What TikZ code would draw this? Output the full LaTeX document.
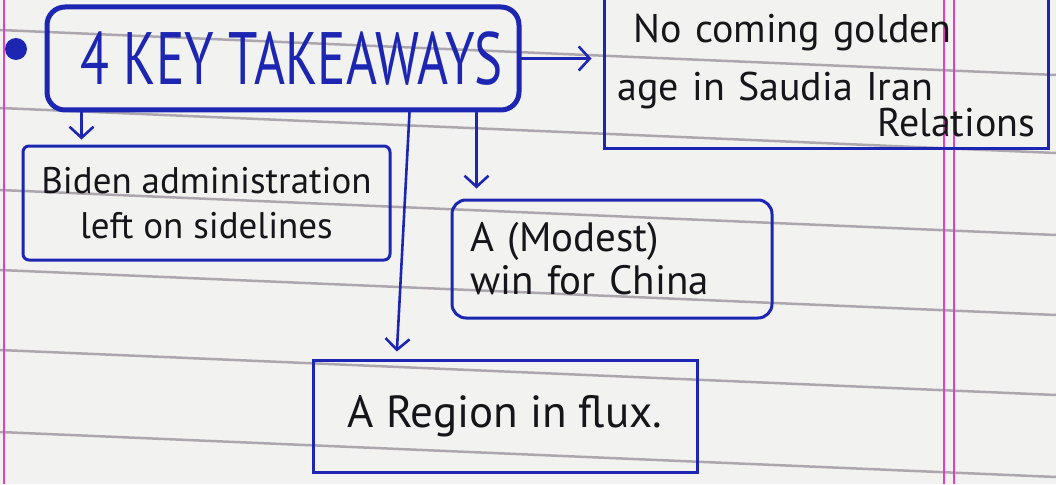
\documentclass[tikz,border=0pt]{standalone}
\usepackage{fontspec}
\setmainfont{PT Sans}
\usepackage{graphicx}
\usetikzlibrary{arrows.meta}

\definecolor{inkblue}{RGB}{28,38,178}
\definecolor{inkblack}{RGB}{22,22,26}
\definecolor{paper}{RGB}{242,242,240}
\definecolor{ruling}{RGB}{172,167,174}
\definecolor{margin}{RGB}{226,64,190}
\newcommand{\tallink}[1]{\scalebox{1}[1.4]{#1}}

\tikzset{every picture/.style={line width=0.75pt}}
\tikzset{
  notebox/.style={draw=inkblue, line width=3pt, inner sep=0pt, text=inkblack},
  inkarrow/.style={draw=inkblue, line width=2.6pt, line cap=round, -{Straight Barb[length=11pt,width=24pt]}}
}

\begin{document}
\begin{tikzpicture}[x=1pt,y=1pt,yscale=-1,xscale=1]
% Paper
\fill[paper] (0,0) rectangle (1056,484);
\useasboundingbox (0,0) rectangle (1056,484);
\foreach \y in {30,108,190,270,350,432}
  \draw[ruling, line width=2.5pt] (0,\y) -- (1056,{\y+45});
\draw[margin, line width=1.3pt] (4,0) -- (4,484);
\draw[margin, line width=1.3pt] (944,0) -- (944,484);
\draw[margin, line width=1.3pt] (954,0) -- (954,484);

% Bullet
\node[circle, fill=inkblue, inner sep=0pt, minimum size=22pt] (dot) at (16,49) {};

% Text Node
\node[notebox, line width=5pt, rounded corners=18pt, minimum width=472pt, minimum height=103pt, text=inkblue, font=\fontsize{53}{60}\selectfont] (main) at (283,58.5) {\hspace*{18pt}\tallink{4 KEY TAKEAWAYS}};
% Text Node
\node[notebox, minimum width=444pt, minimum height=154pt] (noBox) at (826,71) {};
\node[anchor=north west, inner sep=0pt, text width=418pt, align=left, text=inkblack, font=\fontsize{40}{48}\selectfont] (noText) at (617,14) {\hspace*{16pt}No coming golden\\[10pt]age in Saudia Iran\\[-12pt]\mbox{}\hfill Relations};
% Text Node
\node[notebox, rounded corners=6pt, minimum width=367pt, minimum height=114pt, align=center, font=\fontsize{37}{45}\selectfont] (biden) at (206.5,203) {Biden administration\\left on sidelines};
% Text Node
\node[notebox, rounded corners=14pt, minimum width=320pt, minimum height=118pt, text width=284pt, align=left, font=\fontsize{41}{43}\selectfont] (china) at (612,259) {A (Modest)\\win for China};
% Text Node
\node[notebox, minimum width=384pt, minimum height=112pt, font=\fontsize{45}{48}\selectfont] (region) at (505,416) {A Region in flux.};

% Connection
\draw[inkarrow, shorten >=11pt] (main.east) -- (main.east -| noBox.west);
% Connection
\coordinate (bidenIn) at ([xshift=60pt]biden.north west);
\draw[inkarrow, shorten >=5pt] (main.south -| bidenIn) -- (bidenIn);
% Connection
\coordinate (chinaIn) at ([xshift=26pt]china.north west);
\draw[inkarrow, shorten >=10pt] (main.south -| chinaIn) -- (chinaIn);
% Connection
\coordinate (mainOut) at ([xshift=365pt]main.south west);
\coordinate (regionIn) at ([xshift=85pt]region.north west);
\draw[inkarrow, shorten >=7pt] (mainOut) -- (regionIn);

\end{tikzpicture}
\end{document}
